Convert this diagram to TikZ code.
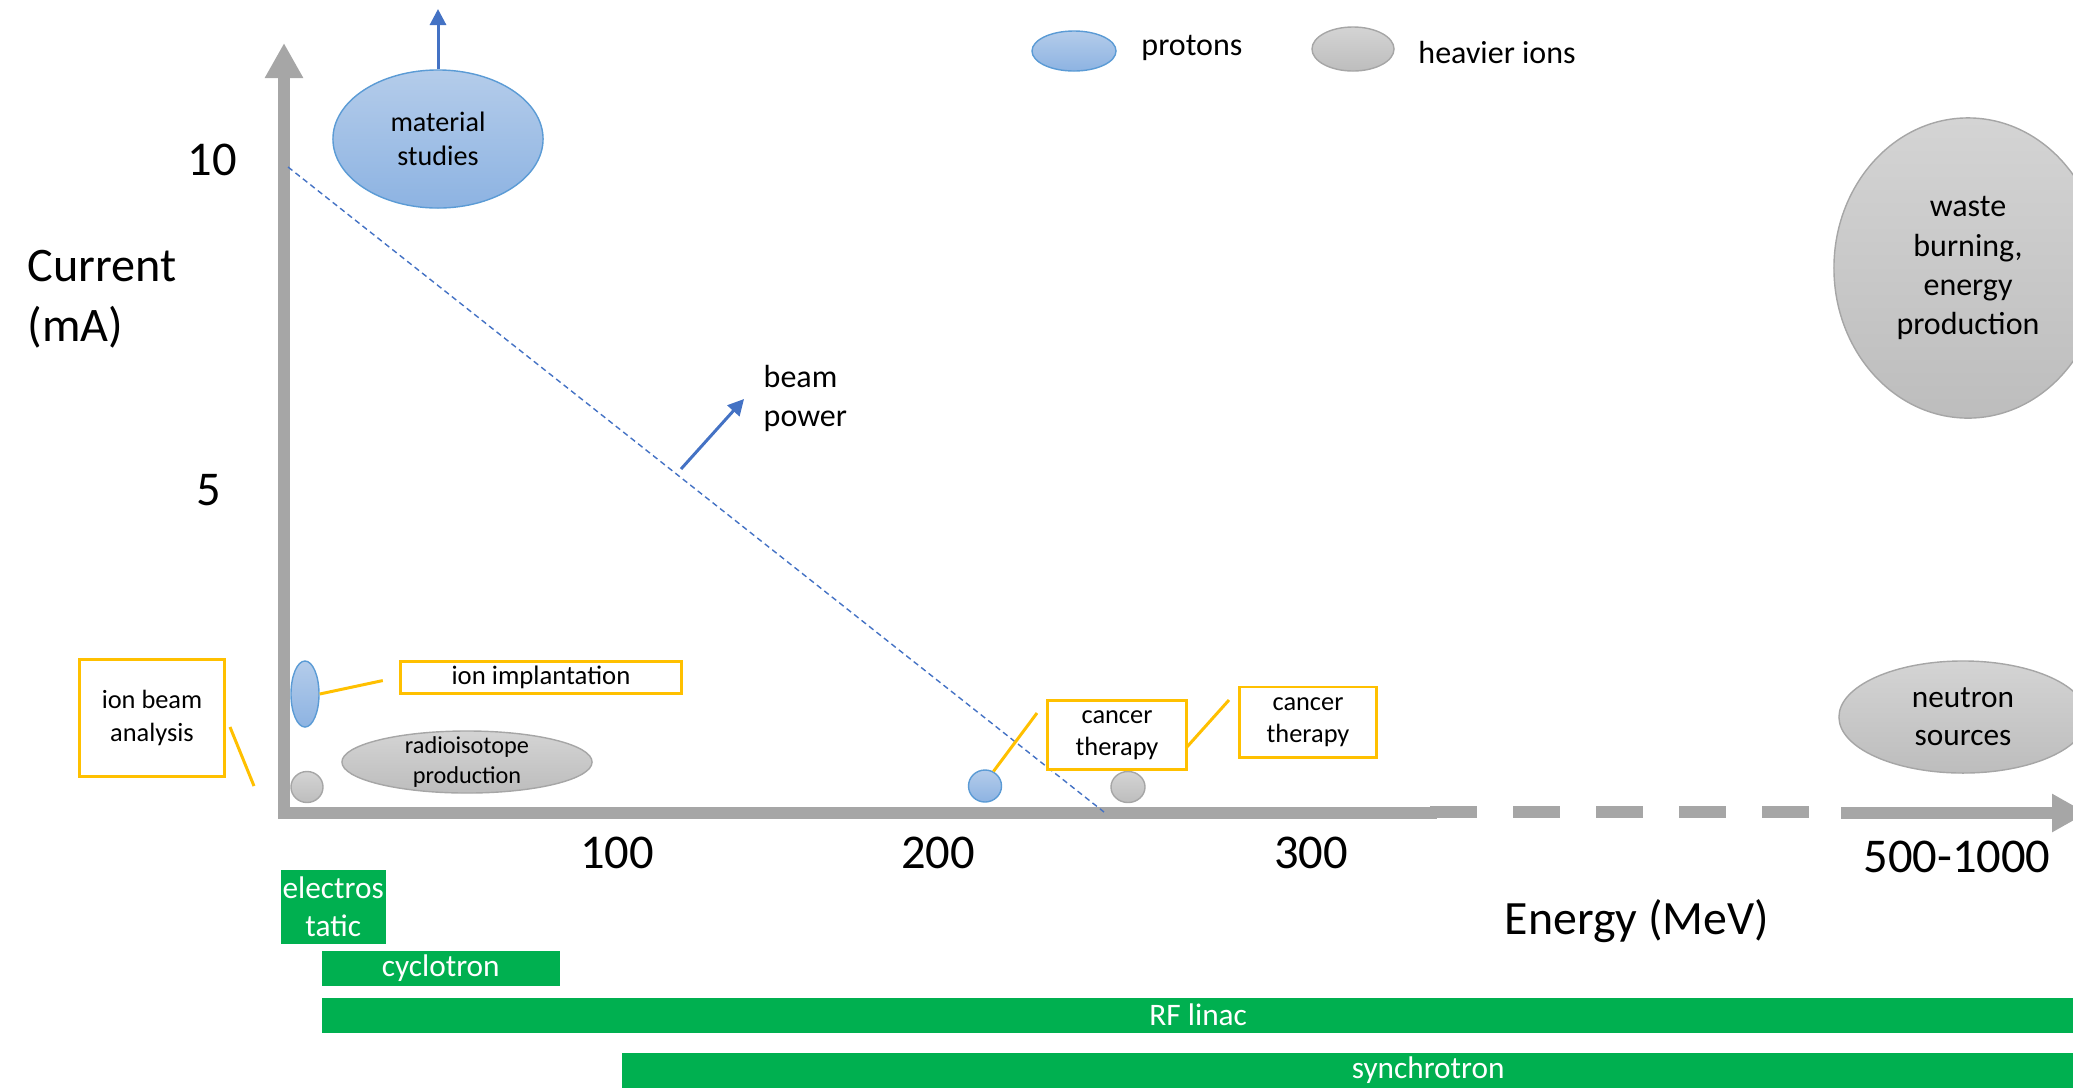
\documentclass[tikz,border=0pt]{standalone}
\usepackage{fontspec}
\setmainfont{Carlito}
\usepackage{tikz}
\usetikzlibrary{positioning,calc,arrows.meta,shapes.geometric}
\definecolor{axgray}{HTML}{A6A6A6}
\definecolor{pline}{HTML}{5B9BD5}
\definecolor{ptop}{HTML}{B4CCEA}
\definecolor{pbot}{HTML}{8DB3E2}
\definecolor{gtop}{HTML}{D4D4D4}
\definecolor{gbot}{HTML}{BDBDBD}
\definecolor{noteyel}{HTML}{FFC000}
\definecolor{accgreen}{HTML}{00B050}
\definecolor{arrblue}{HTML}{4472C4}
\def\fs#1{\fontsize{#1}{1.22\dimexpr#1pt\relax}\selectfont}
\tikzset{
  axis/.style={axgray, line width=0.12cm, -{Triangle[length=0.35cm,width=0.36cm]}},
  axisline/.style={axgray, line width=0.12cm},
  proton/.style={ellipse, draw=pline, line width=0.4pt, top color=ptop, bottom color=pbot, inner sep=0, align=center},
  heavy/.style={ellipse, draw=axgray, line width=0.4pt, top color=gtop, bottom color=gbot, inner sep=0, align=center},
  note/.style={draw=noteyel, line width=0.85pt, fill=white, inner sep=0, align=center},
  leader/.style={noteyel, line width=0.85pt},
  accel/.style={fill=accgreen, text=white, anchor=north west, inner sep=0, align=center, font=\fs{8.9}},
  tick/.style={inner sep=0, font=\fs{13.8}},
  blueup/.style={arrblue, line width=0.85pt, -{Triangle[length=0.16cm,width=0.16cm]}}
}

\begin{document}
\begin{tikzpicture}[x=0.01cm,y=-0.01cm]
\useasboundingbox (0,0) rectangle (2073,1087);
% axes
\draw[axis] (284,819) -- (284,43);
\draw[axisline] (278,813) -- (1437,813);
\draw[axisline, dash pattern=on 0.47cm off 0.36cm] (1430,812) -- (1813,812);
\draw[axis] (1841,813) -- (2087,813);
\node[inner sep=0, anchor=west, align=left, font=\fontsize{13.7}{17.2}\selectfont] (ylab) at (27,299) {Current\\(mA)};
\node[inner sep=0, font=\fs{13.6}] (xlab) at (1637,921) {Energy (MeV)};
\node[tick] (t10) at (212,160) {10};
\node[tick] (t5) at (209,490) {5};
\node[tick] (t100) at (617,853) {100};
\node[tick] (t200) at (938,853) {200};
\node[tick] (t300) at (1311,853) {300};
\node[tick] (t500) at (1957,857) {500-1000};
% beam power line
\coordinate (p10) at (288,167);
\coordinate (p0) at (1104,812);
\draw[arrblue, line width=0.4pt, dash pattern=on 1.6pt off 1.1pt] (p10) -- (p0);
\coordinate (bpfoot) at (681,469);
\coordinate (bptip) at (744,399);
\draw[blueup] (bpfoot) -- (bptip);
\node[inner sep=0, anchor=west, align=left, font=\fs{9.1}] (bp) at (763,398) {beam\\power};
% legend
\node[proton, minimum width=0.84cm, minimum height=0.40cm] (lp) at (1074,51) {};
\node[inner sep=0, right=0.24cm of lp, yshift=0.03cm, font=\fs{9.1}] (lptext) {protons};
\node[heavy, minimum width=0.82cm, minimum height=0.44cm] (lh) at (1353,49) {};
\node[inner sep=0, right=0.23cm of lh, yshift=-0.03cm, font=\fs{9.1}] (lhtext) {heavier ions};
% applications
\node[proton, minimum width=2.1cm, minimum height=1.38cm, font=\fs{8}] (mat) at (438,139) {material\\studies};
\coordinate (matup) at (438,9);
\draw[blueup] (mat) -- (matup);
\node[heavy, minimum width=2.68cm, minimum height=3cm, font=\fs{9.1}] (waste) at (1968,268) {waste\\burning,\\energy\\production};
\node[heavy, minimum width=2.48cm, minimum height=1.12cm, font=\fs{8.9}] (neutron) at (1963,717) {neutron\\sources};
\node[heavy, minimum width=2.5cm, minimum height=0.62cm, inner ysep=-3.5pt, font=\fs{6.9}] (radio) at (467,762) {radioisotope\\production};
\node[proton, minimum width=0.28cm, minimum height=0.66cm] (impl) at (305,694) {};
\node[heavy, minimum width=0.32cm, minimum height=0.31cm] (iba) at (307,787) {};
\node[proton, minimum width=0.33cm, minimum height=0.32cm] (pther) at (985,786) {};
\node[heavy, minimum width=0.34cm, minimum height=0.31cm] (hther) at (1128,787) {};
% notes
\node[note, minimum width=1.44cm, minimum height=1.17cm, font=\fs{7.5}] (ibabox) at (152,718) {ion beam\\analysis};
\node[note, minimum width=2.8cm, minimum height=0.32cm, font=\fs{7.6}] (implbox) at (541,677) {ion implantation};
\node[note, minimum width=1.38cm, minimum height=0.69cm, font=\fs{7.5}] (ptherbox) at (1117,735) {cancer\\therapy};
\node[note, minimum width=1.37cm, minimum height=0.70cm, font=\fs{7.5}] (htherbox) at (1308,722) {cancer\\therapy};
\draw[leader, shorten >=0.17cm] (impl.east) -- (implbox.west);
\coordinate (ibatop) at (230,727);
\coordinate (ibabot) at (254,786);
\draw[leader] (ibatop) -- (ibabot);
\coordinate (pthertop) at (1037,713);
\draw[leader] (pther.60) -- (pthertop);
\coordinate (htherlow) at (1186,748);
\coordinate (hthertop) at (1229,700);
\draw[leader] (htherlow) -- (hthertop);
% accelerators
\node[accel, minimum width=1.05cm, minimum height=0.74cm] (estat) at (280,869) {electros\\tatic};
\node[accel, minimum width=2.38cm, minimum height=0.35cm] (cyc) at (321,950) {cyclotron};
\node[accel, minimum width=17.52cm, minimum height=0.35cm] (linac) at (321,997) {RF linac};
\node[accel, minimum width=16.12cm, minimum height=0.35cm] (sync) at (621,1052) {synchrotron};
\end{tikzpicture}
\end{document}
